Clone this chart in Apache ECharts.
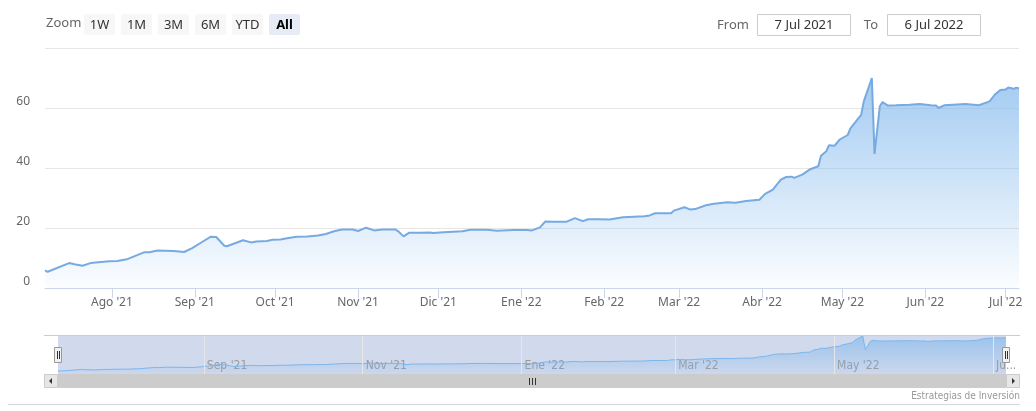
<!DOCTYPE html>
<html>
<head>
<meta charset="utf-8">
<script src="https://cdn.jsdelivr.net/npm/echarts@6/dist/echarts.min.js"></script>
<style>
html,body{margin:0;padding:0;background:#fff;}
#chart{width:1036px;height:411px;}
</style>
</head>
<body>
<div id="chart"></div>
<script>
// ---- data ----
const dates = [
'2021-07-07','2021-07-08','2021-07-16','2021-07-18','2021-07-21','2021-07-24','2021-07-31',
'2021-08-03','2021-08-07','2021-08-13','2021-08-15','2021-08-18','2021-08-24','2021-08-28','2021-08-31',
'2021-09-04','2021-09-07','2021-09-09','2021-09-12','2021-09-13','2021-09-19','2021-09-22','2021-09-24','2021-09-28','2021-09-30',
'2021-10-03','2021-10-06','2021-10-09','2021-10-13','2021-10-17','2021-10-20','2021-10-23','2021-10-26','2021-10-30',
'2021-11-01','2021-11-04','2021-11-07','2021-11-10','2021-11-15','2021-11-16','2021-11-18','2021-11-20','2021-11-24','2021-11-28','2021-11-29',
'2021-12-03','2021-12-10','2021-12-13','2021-12-19','2021-12-23','2021-12-29',
'2022-01-03','2022-01-05','2022-01-08','2022-01-10','2022-01-13','2022-01-18','2022-01-21','2022-01-24','2022-01-26','2022-01-30',
'2022-02-03','2022-02-08','2022-02-16','2022-02-18','2022-02-20','2022-02-26','2022-02-27',
'2022-03-03','2022-03-05','2022-03-07','2022-03-11','2022-03-14','2022-03-19','2022-03-22','2022-03-26','2022-03-31',
'2022-04-02','2022-04-05','2022-04-08','2022-04-10','2022-04-12','2022-04-13','2022-04-16','2022-04-19','2022-04-22','2022-04-23','2022-04-25','2022-04-26','2022-04-28','2022-04-30',
'2022-05-03','2022-05-04','2022-05-08','2022-05-09','2022-05-12','2022-05-13','2022-05-15','2022-05-16','2022-05-18','2022-05-21','2022-05-26','2022-05-30',
'2022-06-03','2022-06-05','2022-06-06','2022-06-08','2022-06-16','2022-06-21','2022-06-25','2022-06-27','2022-06-29',
'2022-07-01','2022-07-02','2022-07-04','2022-07-05','2022-07-06'
];
const values = [
5.9,5.4,8.3,7.9,7.4,8.3,8.9,
9.0,9.7,11.9,11.9,12.5,12.3,12.0,13.3,
15.5,17.1,17.0,14.1,13.9,15.9,15.2,15.5,15.7,16.1,
16.2,16.7,17.1,17.2,17.5,18.0,18.9,19.5,19.5,
19.0,20.1,19.2,19.5,19.5,18.9,17.2,18.4,18.4,18.5,18.3,
18.6,18.9,19.4,19.4,19.1,19.3,
19.3,19.2,20.2,22.2,22.1,22.1,23.3,22.3,22.9,22.9,
22.8,23.6,23.9,24.2,24.9,24.9,25.8,
26.9,26.2,26.3,27.6,28.1,28.6,28.4,29.0,29.4,
31.3,32.8,36.1,37.0,37.1,36.7,37.8,39.6,40.6,44.1,45.6,47.6,47.4,49.5,
51.0,53.2,57.7,62.2,70.0,44.7,60.6,62.0,60.8,60.9,61.1,61.3,
60.9,60.8,60.0,60.9,61.3,60.9,62.2,64.5,66.0,
66.2,66.8,66.4,66.8,66.5
];
const monthNames = ['Ene','Feb','Mar','Abr','May','Jun','Jul','Ago','Sep','Oct','Nov','Dic'];
const yMin = 0, yMax = 80, yInterval = 20;
const navTickDates = ['2021-09-01','2021-11-01','2022-01-01','2022-03-01','2022-05-01','2022-07-01'];
const rangeButtons = ['1W','1M','3M','6M','YTD','All'];
const selectedButton = 'All';
const zoomLabel = 'Zoom';
const fromLabel = 'From', toLabel = 'To';
const fromText = '7 Jul 2021', toText = '6 Jul 2022';
const creditText = 'Estrategias de Inversión';

// ---- chart ----
const seriesData = dates.map((d, i) => [d, values[i]]);
const DAY = 86400000;
function monthLabel(val) {
  const d = new Date(val);
  return monthNames[d.getMonth()] + " '" + String(d.getFullYear()).slice(2);
}
const FONT = '"Noto Sans", "Open Sans", sans-serif';
const NARROW = '"Liberation Sans Narrow", "DejaVu Sans Condensed", sans-serif';

const graphics = [];
graphics.push({type:'text', left:46, top:17, style:{text:zoomLabel, fill:'#666', font:'13px ' + FONT}});
rangeButtons.forEach((b, i) => {
  const x = 84 + i * 37;
  const sel = b === selectedButton;
  graphics.push({type:'rect', shape:{x:x, y:14, width:31, height:21, r:2},
    style:{fill: sel ? '#e6ebf5' : '#f7f7f7', stroke:'none'}});
  graphics.push({type:'text', style:{text:b, x:x + 15.5, y:25, textAlign:'center', textVerticalAlign:'middle',
    fill: sel ? '#000' : '#333', font:(sel ? 'bold ' : '') + '13px ' + FONT}});
});
graphics.push({type:'text', style:{text:fromLabel, x:749, y:25, textAlign:'right', textVerticalAlign:'middle', fill:'#666', font:'13px ' + FONT}});
graphics.push({type:'rect', shape:{x:757.5, y:14.5, width:93, height:21}, style:{fill:'#fff', stroke:'#cccccc', lineWidth:1}});
graphics.push({type:'text', style:{text:fromText, x:804, y:25, textAlign:'center', textVerticalAlign:'middle', fill:'#333', font:'13px ' + FONT}});
graphics.push({type:'text', style:{text:toLabel, x:878, y:25, textAlign:'right', textVerticalAlign:'middle', fill:'#666', font:'13px ' + FONT}});
graphics.push({type:'rect', shape:{x:887.5, y:14.5, width:93, height:21}, style:{fill:'#fff', stroke:'#cccccc', lineWidth:1}});
graphics.push({type:'text', style:{text:toText, x:934, y:25, textAlign:'center', textVerticalAlign:'middle', fill:'#333', font:'13px ' + FONT}});

// navigator outline + handles
graphics.push({type:'line', shape:{x1:44, y1:335.5, x2:1020, y2:335.5}, style:{stroke:'#cccccc', lineWidth:1}, z:10});
[58, 1006].forEach(hx => {
  graphics.push({type:'rect', shape:{x:hx - 3.5, y:347.5, width:7, height:15}, style:{fill:'#f2f2f2', stroke:'#999999', lineWidth:1}, z:11});
  graphics.push({type:'line', shape:{x1:hx - 0.5, y1:351, x2:hx - 0.5, y2:359}, style:{stroke:'#333', lineWidth:1}, z:12});
  graphics.push({type:'line', shape:{x1:hx + 1.5, y1:351, x2:hx + 1.5, y2:359}, style:{stroke:'#333', lineWidth:1}, z:12});
});
// scrollbar
graphics.push({type:'rect', shape:{x:44, y:374, width:976, height:14}, style:{fill:'#f2f2f2'}});
graphics.push({type:'rect', shape:{x:58, y:374, width:948, height:14}, style:{fill:'#cccccc'}});
graphics.push({type:'rect', shape:{x:44.5, y:374.5, width:13, height:13}, style:{fill:'#e6e6e6', stroke:'#cccccc', lineWidth:1}});
graphics.push({type:'rect', shape:{x:1006.5, y:374.5, width:13, height:13}, style:{fill:'#e6e6e6', stroke:'#cccccc', lineWidth:1}});
graphics.push({type:'polygon', shape:{points:[[52,378],[52,384],[49,381]]}, style:{fill:'#333'}});
graphics.push({type:'polygon', shape:{points:[[1012,378],[1012,384],[1015,381]]}, style:{fill:'#333'}});
[-3, 0, 3].forEach(o => graphics.push({type:'line', shape:{x1:532.5 + o, y1:378, x2:532.5 + o, y2:385}, style:{stroke:'#333', lineWidth:1}}));
// credit and bottom rule
graphics.push({type:'text', style:{text:creditText, x:1020, y:396, textAlign:'right', textVerticalAlign:'middle', fill:'#999', font:'10px ' + NARROW}});
graphics.push({type:'line', shape:{x1:8, y1:404.5, x2:1020, y2:404.5}, style:{stroke:'#d8d8d8', lineWidth:1}});

const chart = echarts.init(document.getElementById('chart'));
chart.setOption({
  animation: false,
  backgroundColor: '#fff',
  grid: [
    {left:45, right:17, top:48, height:240},
    {left:58, right:30, top:336, height:38, show:true, backgroundColor:'rgba(102,133,194,0.3)', borderWidth:0}
  ],
  xAxis: [
    {
      type:'time', gridIndex:0, min:dates[0], max:dates[dates.length - 1],
      splitNumber:12, minInterval:28 * DAY, maxInterval:31 * DAY,
      axisLine:{lineStyle:{color:'#ccd6eb'}},
      axisTick:{show:true, length:10, lineStyle:{color:'#ccd6eb'}},
      splitLine:{show:false},
      axisLabel:{
        color:'#666', fontSize:12, fontFamily:FONT, margin:9, hideOverlap:false,
        showMinLabel:false, showMaxLabel:false,
        formatter: v => (new Date(v).getDate() === 1 ? monthLabel(v) : '')
      }
    },
    {
      type:'time', gridIndex:1, min:dates[0], max:dates[dates.length - 1],
      splitNumber:12, minInterval:28 * DAY, maxInterval:31 * DAY,
      axisLine:{show:false}, axisTick:{show:false}, splitLine:{show:false},
      axisLabel:{
        inside:true, align:'left', margin:2, padding:[0,0,0,3],
        color:'#999', fontSize:12, fontFamily:NARROW,
        showMinLabel:false, showMaxLabel:false,
        formatter: v => {
          const d = new Date(v);
          if (d.getDate() !== 1 || d.getMonth() % 2 !== 0) return '';
          const s = monthLabel(v);
          return (+d > +new Date(dates[dates.length - 1]) - 20 * DAY) ? s.slice(0, 2) + '...' : s;
        }
      }
    }
  ],
  yAxis: [
    {
      type:'value', gridIndex:0, min:yMin, max:yMax, interval:yInterval,
      axisLine:{show:false}, axisTick:{show:false},
      splitLine:{lineStyle:{color:'#e6e6e6'}},
      axisLabel:{color:'#666', fontSize:12, fontFamily:FONT, margin:15, verticalAlign:'bottom', lineHeight:12, showMaxLabel:false}
    },
    {
      type:'value', gridIndex:1, min:0, max:'dataMax',
      axisLine:{show:false}, axisTick:{show:false}, axisLabel:{show:false}, splitLine:{show:false}
    }
  ],
  series: [
    {
      type:'line', xAxisIndex:0, yAxisIndex:0, data:seriesData,
      showSymbol:false, symbol:'none',
      lineStyle:{color:'#76aae1', width:2},
      areaStyle:{color:new echarts.graphic.LinearGradient(0,0,0,1,[
        {offset:0, color:'rgba(124,181,236,1)'},
        {offset:1, color:'rgba(124,181,236,0.04)'}
      ])}
    },
    {
      type:'line', xAxisIndex:1, yAxisIndex:1, data:seriesData,
      showSymbol:false, symbol:'none', silent:true,
      lineStyle:{color:'#7cb5ec', width:1},
      areaStyle:{color:new echarts.graphic.LinearGradient(0,0,0,1,[
        {offset:0, color:'rgba(124,181,236,0.9)'},
        {offset:1, color:'rgba(124,181,236,0.1)'}
      ])},
      markLine:{
        silent:true, symbol:'none', label:{show:false},
        lineStyle:{color:'#e6e6e6', width:1, type:'solid'},
        data: navTickDates.map(d => ({xAxis:d}))
      }
    }
  ],
  graphic: graphics
});
</script>
</body>
</html>
